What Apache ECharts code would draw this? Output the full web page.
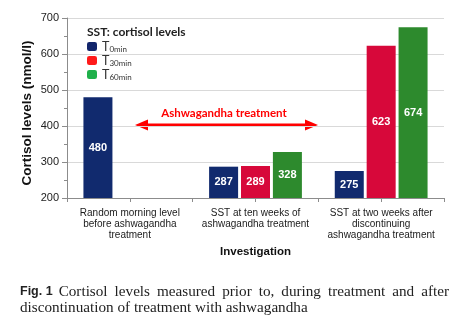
<!DOCTYPE html>
<html>
<head>
<meta charset="utf-8">
<script src="https://cdn.jsdelivr.net/npm/echarts@6/dist/echarts.min.js"></script>
<style>
  html, body { margin: 0; padding: 0; background: #fff; }
  #chart { width: 462px; height: 331px; }
</style>
</head>
<body>
<div id="chart"></div>
<script>
// Cortisol levels per investigation stage
const categories = [
  'Random morning level\nbefore ashwagandha\ntreatment',
  'SST at ten weeks of\nashwagandha treatment',
  'SST at two weeks after\ndiscontinuing\nashwagandha treatment'
];
const t0min = [480, 287, 275];
const t30min = [null, 289, 623];
const t60min = [null, 328, 674];
const yTicks = [200, 300, 400, 500, 600, 700];
const legendTitle = 'SST: cortisol levels';
const arrowText = 'Ashwagandha treatment';
const captionBold = 'Fig. 1';
const captionLine1 = 'Cortisol levels measured prior to, during treatment and after';
const captionLine2 = 'discontinuation of treatment with ashwagandha';

const barColors = ['#112a6e', '#d7083a', '#2d8a2d'];
const legendColors = ['#12256b', '#ff1a1a', '#1fb04a'];
const sansBold = 'Lato';
const arial = '"Liberation Sans", Arial, sans-serif';
const serif = '"Liberation Serif", "Times New Roman", serif';

const chart = echarts.init(document.getElementById('chart'), null, { renderer: 'canvas' });

const valueLabel = {
  show: true,
  position: 'inside',
  color: '#fff',
  fontFamily: arial,
  fontWeight: 'bold',
  fontSize: 11
};

function makeSeries(name, data, idx) {
  return {
    name: name,
    type: 'bar',
    data: data,
    barWidth: 29,
    barGap: '10%',
    itemStyle: { color: barColors[idx] },
    label: valueLabel,
    emphasis: { disabled: true }
  };
}

// Justified caption words, laid out with measured widths
const measureCtx = document.createElement('canvas').getContext('2d');
function measure(text, font) { measureCtx.font = font; return measureCtx.measureText(text).width; }
const capSize = 15.2;
const capFont = capSize + 'px ' + serif;
const boldFont = 'bold 12.5px ' + arial;
const capLeft = 20, capRight = 449, capY1 = 292, capY2 = 308;
const captionGraphics = [];
const boldW = measure(captionBold, boldFont);
captionGraphics.push({ type: 'text', x: capLeft, y: capY1, style: { text: captionBold, font: boldFont, fill: '#222', textVerticalAlign: 'middle' } });
const words = captionLine1.split(' ');
const wordW = words.map(w => measure(w, capFont));
const startX = capLeft + boldW + 6;
const totalW = wordW.reduce((a, b) => a + b, 0);
const gap = (capRight - startX - totalW) / (words.length - 1);
let cx = startX;
words.forEach((w, i) => {
  captionGraphics.push({ type: 'text', x: cx, y: capY1, style: { text: w, font: capFont, fill: '#222', textVerticalAlign: 'middle' } });
  cx += wordW[i] + gap;
});
captionGraphics.push({ type: 'text', x: capLeft, y: capY2, style: { text: captionLine2, font: capFont, fill: '#222', textVerticalAlign: 'middle' } });

// Double-headed treatment arrow
const arrowY = 125, ax0 = 135, ax1 = 318, head = 13, halfH = 5.5;
const arrowGraphics = [
  { type: 'line', shape: { x1: ax0 + head - 2, y1: arrowY, x2: ax1 - head + 2, y2: arrowY }, style: { stroke: '#ff0000', lineWidth: 3 } },
  { type: 'polygon', shape: { points: [[ax0, arrowY], [ax0 + head, arrowY - halfH], [ax0 + head, arrowY + halfH]] }, style: { fill: '#ff0000' } },
  { type: 'polygon', shape: { points: [[ax1, arrowY], [ax1 - head, arrowY - halfH], [ax1 - head, arrowY + halfH]] }, style: { fill: '#ff0000' } },
  { type: 'text', x: 224, y: 113, style: { text: arrowText, font: 'bold 11.5px ' + sansBold, fill: '#ff0000', textAlign: 'center', textVerticalAlign: 'middle' } }
];

const option = {
  animation: false,
  backgroundColor: '#fff',
  title: {
    text: legendTitle,
    left: 82, top: 21,
    textStyle: { fontFamily: sansBold, fontWeight: 'bold', fontSize: 12, color: '#222' }
  },
  legend: {
    orient: 'vertical',
    left: 82, top: 35,
    itemWidth: 10, itemHeight: 9,
    itemGap: 1,
    selectedMode: false,
    data: [
      { name: 'T0min', itemStyle: { color: legendColors[0] } },
      { name: 'T30min', itemStyle: { color: legendColors[1] } },
      { name: 'T60min', itemStyle: { color: legendColors[2] } }
    ],
    formatter: function (name) { return '{t|T}{s|' + name.slice(1) + '}'; },
    textStyle: {
      rich: {
        t: { fontFamily: sansBold, fontSize: 12.5, color: '#333', lineHeight: 12 },
        s: { fontFamily: sansBold, fontSize: 8, color: '#333', lineHeight: 12, padding: [5, 0, 0, 0] }
      }
    }
  },
  grid: { left: 67, right: 18, top: 18, bottom: 133, containLabel: false },
  xAxis: [
    {
      type: 'category',
      data: categories,
      name: 'Investigation',
      nameLocation: 'middle',
      nameGap: 48,
      nameMoveOverlap: false,
      nameTextStyle: { fontFamily: arial, fontWeight: 'bold', fontSize: 11.5, color: '#111' },
      axisLine: { lineStyle: { color: '#8c8c8c' } },
      axisTick: { show: false },
      axisLabel: { interval: 0, fontFamily: arial, fontSize: 10, color: '#1a1a1a', lineHeight: 11, margin: 10 }
    },
    {
      // finer tick marks along the category axis
      type: 'category',
      position: 'bottom',
      data: ['a', 'b', 'c', 'd', 'e', 'f'],
      axisLine: { show: false },
      axisLabel: { show: false },
      axisTick: { show: true, length: 4, lineStyle: { color: '#8c8c8c' } },
      splitLine: { show: false }
    }
  ],
  yAxis: {
    type: 'value',
    min: yTicks[0], max: yTicks[yTicks.length - 1], interval: 100,
    name: 'Cortisol levels (nmol/l)',
    nameLocation: 'middle',
    nameGap: 33,
    nameMoveOverlap: false,
    nameTextStyle: { fontFamily: arial, fontWeight: 'bold', fontSize: 13.5, color: '#111', padding: [0, 10, 0, 0] },
    axisLine: { show: true, lineStyle: { color: '#8c8c8c' } },
    axisTick: { show: true, length: 5, lineStyle: { color: '#8c8c8c' } },
    minorTick: { show: true, splitNumber: 2, length: 3, lineStyle: { color: '#8c8c8c' } },
    axisLabel: { fontFamily: arial, fontSize: 11, color: '#222', margin: 8 },
    splitLine: { lineStyle: { color: '#d9d9d9' } }
  },
  series: [
    makeSeries('T0min', t0min, 0),
    makeSeries('T30min', t30min, 1),
    makeSeries('T60min', t60min, 2)
  ],
  graphic: arrowGraphics.concat(captionGraphics)
};

chart.setOption(option);
</script>
</body>
</html>
